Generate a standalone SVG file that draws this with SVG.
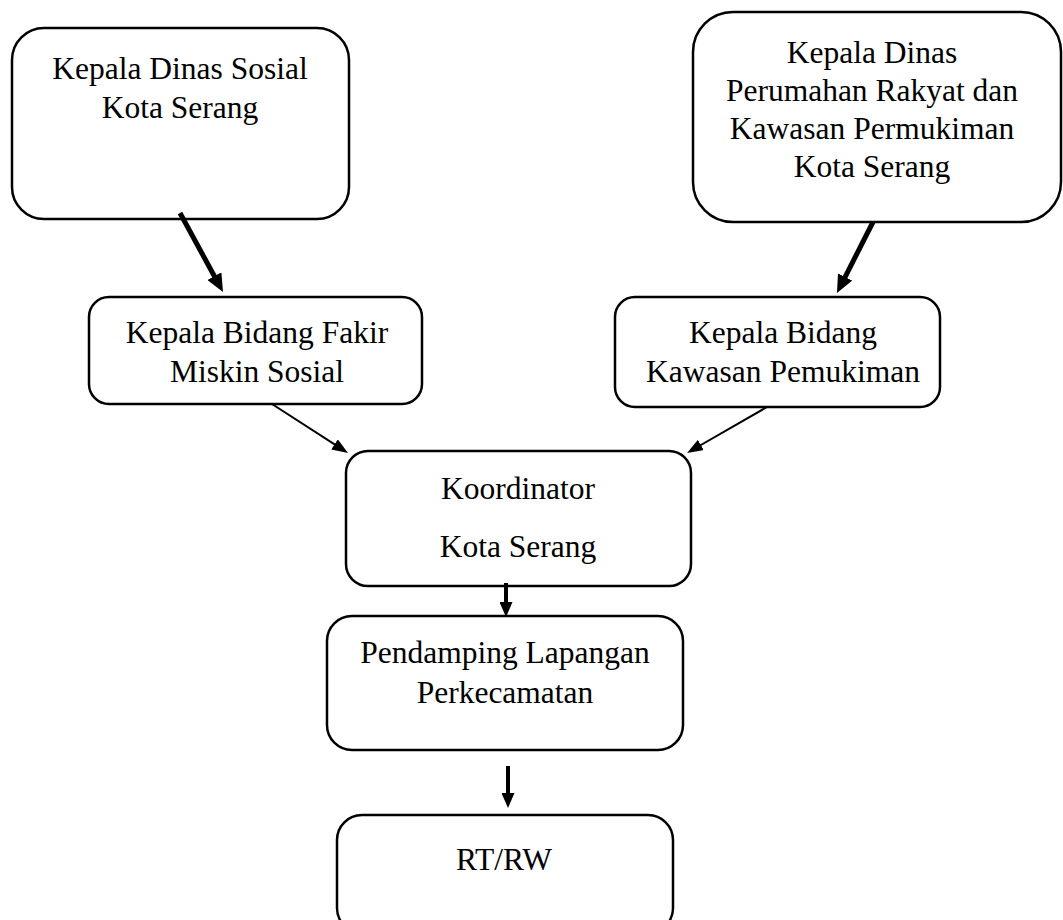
<svg xmlns="http://www.w3.org/2000/svg" width="1063" height="920" viewBox="0 0 1063 920">
<style>
.box{fill:#fff;stroke:#000;stroke-width:2.5}
.t{font-family:"Liberation Serif","Times New Roman",serif;font-size:31.5px;fill:#000;text-anchor:middle}
.c{stroke:#000;fill:none}
</style>
<defs>
<marker id="hThick" markerUnits="userSpaceOnUse" viewBox="0 0 18 16" refX="8" refY="8" markerWidth="18" markerHeight="16" orient="auto"><path d="M0,0 L18,8 L0,16 z" fill="#000"/></marker>
<marker id="hThin" markerUnits="userSpaceOnUse" viewBox="0 0 16 12" refX="6" refY="6" markerWidth="16" markerHeight="12" orient="auto"><path d="M0,0 L16,6 L0,12 z" fill="#000"/></marker>
<marker id="hMid" markerUnits="userSpaceOnUse" viewBox="0 0 15 13" refX="5" refY="6.5" markerWidth="15" markerHeight="13" orient="auto"><path d="M0,0 L15,6.5 L0,13 z" fill="#000"/></marker>
</defs>
<rect width="1063" height="920" fill="#fff"/>
<g id="n1"><rect class="box" x="12" y="28" width="337" height="191" rx="32"/>
<text class="t" x="180" y="79">Kepala Dinas Sosial</text><text class="t" x="180" y="118">Kota Serang</text></g>
<g id="n2"><rect class="box" x="693" y="12" width="368" height="210" rx="40"/>
<text class="t" x="872" y="63">Kepala Dinas</text><text class="t" x="872" y="101">Perumahan Rakyat dan</text><text class="t" x="872" y="139">Kawasan Permukiman</text><text class="t" x="872" y="177">Kota Serang</text></g>
<g id="n3"><rect class="box" x="89" y="297" width="333" height="107" rx="20"/>
<text class="t" x="257" y="343">Kepala Bidang Fakir</text><text class="t" x="257" y="382">Miskin Sosial</text></g>
<g id="n4"><rect class="box" x="615" y="297" width="325" height="110" rx="20"/>
<text class="t" x="783" y="343">Kepala Bidang</text><text class="t" x="783" y="382">Kawasan Pemukiman</text></g>
<g id="n5"><rect class="box" x="346" y="451" width="345" height="135" rx="22"/>
<text class="t" x="518" y="499">Koordinator</text><text class="t" x="518" y="557">Kota Serang</text></g>
<g id="n6"><rect class="box" x="327" y="616" width="356" height="134" rx="25"/>
<text class="t" x="505" y="663">Pendamping Lapangan</text><text class="t" x="505" y="703">Perkecamatan</text></g>
<g id="n7"><rect class="box" x="337" y="815" width="336" height="118" rx="25"/>
<text class="t" x="504" y="870">RT/RW</text></g>
<g id="connectors">
<line class="c" x1="180" y1="213" x2="218.2" y2="283.2" stroke-width="5" marker-end="url(#hThick)"/>
<line class="c" x1="873" y1="222" x2="841.5" y2="284.1" stroke-width="5" marker-end="url(#hThick)"/>
<line class="c" x1="272" y1="404" x2="339.6" y2="447.6" stroke-width="2" marker-end="url(#hThin)"/>
<line class="c" x1="767" y1="407" x2="695.7" y2="448" stroke-width="2" marker-end="url(#hThin)"/>
<line class="c" x1="506" y1="583" x2="506" y2="607" stroke-width="4" marker-end="url(#hMid)"/>
<line class="c" x1="508" y1="766" x2="508" y2="798" stroke-width="4" marker-end="url(#hMid)"/>
</g>
</svg>
